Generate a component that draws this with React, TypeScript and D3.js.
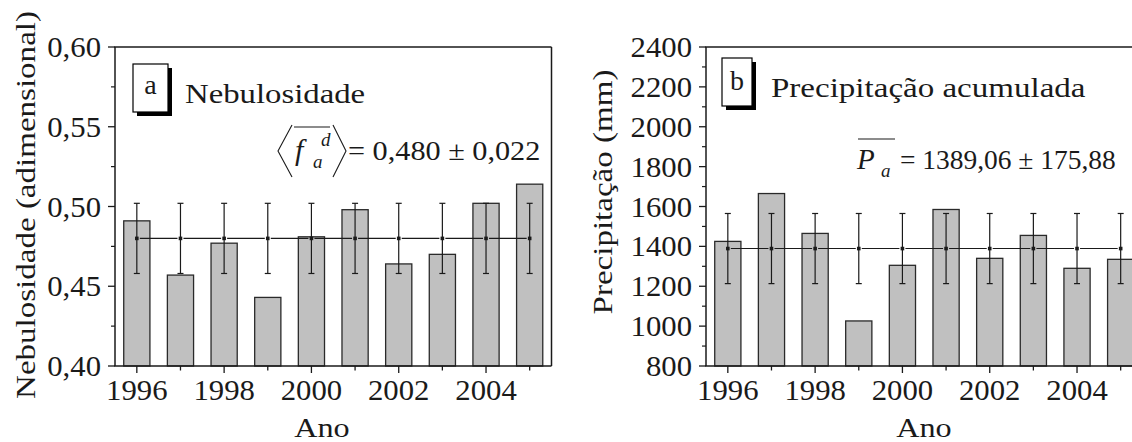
import React from 'react';
import * as d3 from 'd3';

// Data
const years = [1996, 1997, 1998, 1999, 2000, 2001, 2002, 2003, 2004, 2005];
const yearTicks = [1996, 1998, 2000, 2002, 2004];

const cloudiness = [0.491, 0.457, 0.477, 0.443, 0.481, 0.498, 0.464, 0.470, 0.502, 0.514];
const cloudMean = 0.480;
const cloudStd = 0.022;
const cloudTicks = [0.40, 0.45, 0.50, 0.55, 0.60];
const cloudMinor = [0.425, 0.475, 0.525, 0.575];

const precipitation = [1425, 1665, 1465, 1026, 1305, 1585, 1340, 1455, 1290, 1335];
const precipMean = 1389.06;
const precipStd = 175.88;
const precipTicks = [800, 1000, 1200, 1400, 1600, 1800, 2000, 2200, 2400];
const precipMinor = [900, 1100, 1300, 1500, 1700, 1900, 2100, 2300];

const FONT = 'Liberation Serif';
const INK = '#1a1a1a';

const fmtComma = (f) => (v) => d3.format(f)(v).replace('.', ',');

// letter-spacing switches the font here, so stretch with a transform instead
function SText({ x, y, size, sx = 1, rotate = 0, anchor = 'start', italic = false, children }) {
    const extra = italic ? { fontStyle: 'italic' } : {};
    return (
        <text transform={`translate(${x},${y}) rotate(${rotate}) scale(${sx},1)`}
            textAnchor={anchor} fontFamily={FONT} fontSize={size} fill={INK} {...extra}>
            {children}
        </text>
    );
}

function Panel({ left, right, top, bottom, domain, values, mean, std, ticks, minor, tickFmt, yLabel, yLabelX, yLabelY, anoX, clipRight }) {
    const x = d3.scaleLinear().domain([1995.5, 2005.5]).range([left, right]);
    const y = d3.scaleLinear().domain(domain).range([bottom, top]);
    const step = x(1997) - x(1996);
    const barW = step * 0.6;
    const gap = 3;

    return (
        <g>
            {/* bars */}
            {values.map((v, i) => (
                <rect key={'b' + i}
                    x={x(years[i]) - barW / 2} y={y(v)}
                    width={barW} height={y(domain[0]) - y(v)}
                    fill="#c0c0c0" stroke="#2a2a2a" strokeWidth={1.3} />
            ))}

            {/* mean line with gaps at markers */}
            {years.slice(0, -1).map((yr, i) => (
                <line key={'m' + i}
                    x1={x(yr) + gap} x2={x(years[i + 1]) - gap}
                    y1={y(mean)} y2={y(mean)}
                    stroke={INK} strokeWidth={1.1} />
            ))}

            {/* error bars and markers */}
            {years.map((yr) => (
                <g key={'e' + yr}>
                    <line x1={x(yr)} x2={x(yr)} y1={y(mean + std)} y2={y(mean - std)} stroke={INK} strokeWidth={1.2} />
                    <line x1={x(yr) - 3} x2={x(yr) + 3} y1={y(mean + std)} y2={y(mean + std)} stroke={INK} strokeWidth={1.2} />
                    <line x1={x(yr) - 3} x2={x(yr) + 3} y1={y(mean - std)} y2={y(mean - std)} stroke={INK} strokeWidth={1.2} />
                    <rect x={x(yr) - 1.8} y={y(mean) - 1.8} width={3.6} height={3.6} fill={INK} />
                </g>
            ))}

            {/* frame */}
            <line x1={left} x2={left} y1={top} y2={bottom} stroke={INK} strokeWidth={1.5} />
            <line x1={left - 0.75} x2={right} y1={bottom} y2={bottom} stroke={INK} strokeWidth={1.5} />
            <line x1={left - 0.75} x2={right} y1={top} y2={top} stroke={INK} strokeWidth={1.5} />
            {!clipRight && <line x1={right} x2={right} y1={top} y2={bottom} stroke={INK} strokeWidth={1.5} />}

            {/* y ticks */}
            {ticks.map((t) => (
                <g key={'yt' + t}>
                    <line x1={left - 7} x2={left} y1={y(t)} y2={y(t)} stroke={INK} strokeWidth={1.3} />
                    <SText x={left - 14} y={y(t) + 10} anchor="end" size={29} sx={1.06}>{tickFmt(t)}</SText>
                </g>
            ))}
            {minor.map((t) => (
                <line key={'ym' + t} x1={left - 4} x2={left} y1={y(t)} y2={y(t)} stroke={INK} strokeWidth={1.2} />
            ))}

            {/* x ticks */}
            {years.map((yr) => (
                <line key={'xt' + yr} x1={x(yr)} x2={x(yr)} y1={bottom}
                    y2={bottom + (yearTicks.includes(yr) ? 7 : 4.5)} stroke={INK} strokeWidth={1.3} />
            ))}
            {yearTicks.map((yr) => (
                <SText key={'xl' + yr} x={x(yr)} y={400} anchor="middle" size={29} sx={1.06}>{yr}</SText>
            ))}

            {/* axis titles */}
            <SText x={anoX} y={437} anchor="middle" size={28} sx={1.15}>Ano</SText>
            <SText x={yLabelX} y={yLabelY} rotate={-90} anchor="middle" size={28} sx={1.18}>{yLabel}</SText>
        </g>
    );
}

function TagBox({ x, y, w, h, letter, textY }) {
    return (
        <g>
            <rect x={x + 4} y={y + 4} width={w} height={h} fill="#000" />
            <rect x={x} y={y} width={w} height={h} fill="#fff" stroke="#000" strokeWidth={1.2} />
            <SText x={x + w / 2} y={textY} anchor="middle" size={28}>{letter}</SText>
        </g>
    );
}

export default function App() {
    return (
        <svg width={1132} height={442} fontFamily={FONT} style={{ position: 'absolute', left: 0, top: 0, background: '#fff' }}>
            <rect width={1132} height={442} fill="#fff" />

            {/* Panel a */}
            <Panel left={115} right={551.5} top={47} bottom={366}
                domain={[0.40, 0.60]} values={cloudiness} mean={cloudMean} std={cloudStd}
                ticks={cloudTicks} minor={cloudMinor} tickFmt={fmtComma('.2f')}
                yLabel="Nebulosidade (adimensional)" yLabelX={35} yLabelY={205} anoX={322} />
            <TagBox x={133} y={64} w={35} h={48} letter="a" textY={94} />
            <SText x={185} y={103} size={28} sx={1.17}>Nebulosidade</SText>
            {/* <f_a^d> formula */}
            <polyline points="292,125 278,151 292,177" fill="none" stroke={INK} strokeWidth={1.1} />
            <polyline points="333,125 346,151 333,177" fill="none" stroke={INK} strokeWidth={1.1} />
            <line x1={294} x2={330} y1={127} y2={127} stroke={INK} strokeWidth={1.1} />
            <SText x={295} y={160} size={30} italic>f</SText>
            <SText x={313} y={168} size={19} italic>a</SText>
            <SText x={321} y={146} size={19} italic>d</SText>
            <SText x={348} y={160} size={28} sx={1.08}>= 0,480 ± 0,022</SText>

            {/* Panel b */}
            <Panel left={706} right={1142.5} top={47} bottom={366}
                domain={[800, 2400]} values={precipitation} mean={precipMean} std={precipStd}
                ticks={precipTicks} minor={precipMinor} tickFmt={d3.format('d')}
                yLabel="Precipitação (mm)" yLabelX={612} yLabelY={192} anoX={924} clipRight />
            <TagBox x={722} y={58} w={30} h={48} letter="b" textY={90} />
            <SText x={771} y={97} size={28} sx={1.18}>Precipitação acumulada</SText>
            {/* P_a formula */}
            <line x1={858} x2={895} y1={139} y2={139} stroke={INK} strokeWidth={1.1} />
            <SText x={857} y={169} size={29} italic>P</SText>
            <SText x={881} y={177} size={19} italic>a</SText>
            <SText x={900} y={169} size={28} sx={0.98}>= 1389,06 ± 175,88</SText>
        </svg>
    );
}
